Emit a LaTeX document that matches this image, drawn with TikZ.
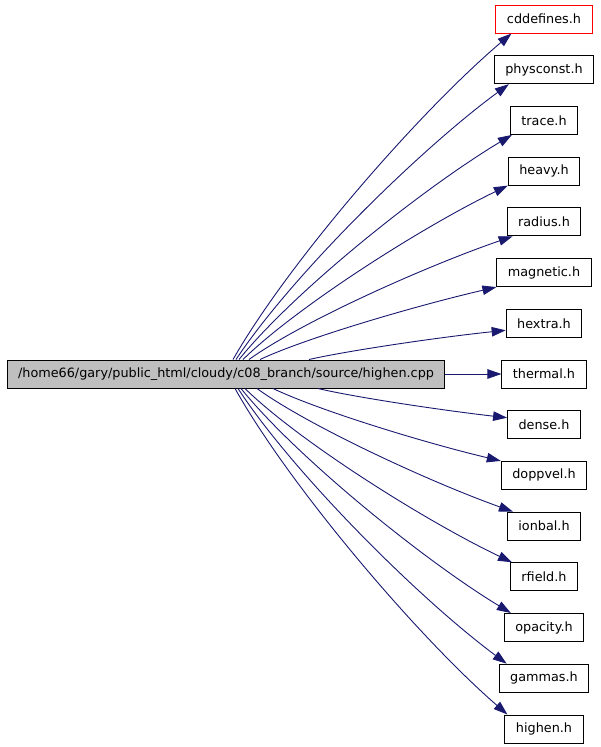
\documentclass[tikz,border=0pt]{standalone}
\usepackage{fontspec}
\setmainfont{DejaVu Sans}
\usepackage{tikz}
\usetikzlibrary{arrows.meta}
\definecolor{edgeblue}{RGB}{25,25,112}
\definecolor{mainfill}{RGB}{191,191,191}

\begin{document}
\begin{tikzpicture}[x=1pt, y=1pt,
  every node/.style={font=\fontsize{12.8pt}{15pt}\selectfont},
  filebox/.style={draw=black, line width=1pt, fill=white, inner xsep=11pt, inner ysep=2pt, minimum height=28pt},
  dep/.style={draw=edgeblue, line width=0.9pt, -{Triangle[length=14pt, width=9.5pt]}}]
  \useasboundingbox (0,0) rectangle (600,-747);
  \node[filebox, fill=mainfill] (main) at (226,-374) {/home66/gary/public\_html/cloudy/c08\_branch/source/highen.cpp};
  \node[filebox, draw=red] (cdd) at (544,-19) {cddefines.h};
  \node[filebox] (phys) at (544,-69.7) {physconst.h};
  \node[filebox] (trace) at (544,-120.4) {trace.h};
  \node[filebox] (heavy) at (544,-171.1) {heavy.h};
  \node[filebox] (radius) at (544,-221.8) {radius.h};
  \node[filebox] (magnetic) at (544,-272.6) {magnetic.h};
  \node[filebox] (hextra) at (544,-323.3) {hextra.h};
  \node[filebox] (thermal) at (544,-374) {thermal.h};
  \node[filebox] (dense) at (544,-424.7) {dense.h};
  \node[filebox] (doppvel) at (544,-475.4) {doppvel.h};
  \node[filebox] (ionbal) at (544,-526.1) {ionbal.h};
  \node[filebox] (rfield) at (544,-576.8) {rfield.h};
  \node[filebox] (opacity) at (544,-627.5) {opacity.h};
  \node[filebox] (gammas) at (544,-678.2) {gammas.h};
  \node[filebox] (highen) at (544,-729) {highen.h};
  % upper includes
  \draw[dep] ([xshift=7pt]main.north) .. controls +(56,98) and +(-92,-78) .. ([xshift=16pt]cdd.south west);
  \draw[dep] ([xshift=10pt]main.north) .. controls +(55,83) and +(-90,-66) .. ([xshift=15pt]phys.south west);
  \draw[dep] ([xshift=13pt]main.north) .. controls +(55,68) and +(-90,-54) .. ([xshift=2pt]trace.south west);
  \draw[dep] ([xshift=17pt]main.north) .. controls +(53,52) and +(-87,-42) .. (heavy.south west);
  \draw[dep] ([xshift=23pt]main.north) .. controls +(53,38) and +(-87,-30) .. ([xshift=6pt]radius.south west);
  \draw[dep] ([xshift=34pt]main.north) .. controls +(47,22) and +(-78,-18) .. (magnetic.south west);
  \draw[dep] ([xshift=83pt]main.north) .. controls +(40,9) and +(-67,-7) .. ([yshift=-7pt]hextra.west);
  \draw[dep] (main.east) -- (thermal.west);
  % lower includes
  \draw[dep] ([xshift=92pt]main.south) .. controls +(38,-9) and +(-62,7) .. ([yshift=7pt]dense.west);
  \draw[dep] ([xshift=47pt]main.south) .. controls +(46,-22) and +(-76,18) .. (doppvel.north west);
  \draw[dep] ([xshift=31pt]main.south) .. controls +(51,-37) and +(-84,30) .. ([xshift=6pt]ionbal.north west);
  \draw[dep] ([xshift=19pt]main.south) .. controls +(53,-52) and +(-88,42) .. ([xshift=2pt]rfield.north west);
  \draw[dep] ([xshift=15pt]main.south) .. controls +(54,-67) and +(-89,54) .. ([xshift=7pt]opacity.north west);
  \draw[dep] ([xshift=12pt]main.south) .. controls +(54,-83) and +(-89,66) .. ([xshift=8pt]gammas.north west);
  \draw[dep] ([xshift=9pt]main.south) .. controls +(55,-98) and +(-90,78) .. ([xshift=3pt]highen.north west);
\end{tikzpicture}
\end{document}
